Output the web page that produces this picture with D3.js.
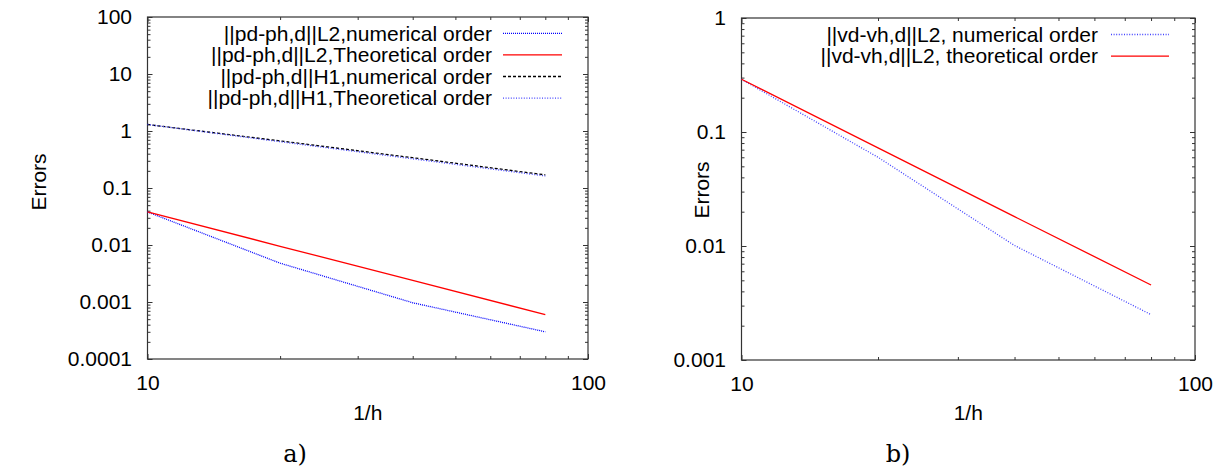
<!DOCTYPE html>
<html>
<head>
<meta charset="utf-8">
<script src="https://cdn.jsdelivr.net/npm/d3@7"></script>
<style>
  body { margin: 0; background: #fff; }
  svg { display: block; }
  .tick text { font-family: "Liberation Sans", Arial, sans-serif; font-size: 21px; fill: #000; }
  .tick line { stroke: #333; stroke-width: 1; }
  .lbl { font-family: "Liberation Sans", Arial, sans-serif; font-size: 21px; fill: #000; }
  .leg { font-family: "Liberation Sans", Arial, sans-serif; font-size: 21px; fill: #000; }
  .cap { font-family: "DejaVu Serif", "Liberation Serif", serif; font-size: 24px; fill: #000; }
</style>
</head>
<body>
<div id="chart"></div>
<script>
// mesh sizes (1/h)
const hInv = [10, 20, 40, 80];

// panel a) pressure errors
const pL2Num = [0.038, 0.0048, 0.00097, 0.0003];
const pL2Theo = [0.038, 0.0095, 0.0024, 0.0006];
const pH1Num = [1.3, 0.67, 0.34, 0.17];
const pH1Theo = [1.3, 0.65, 0.325, 0.1625];

// panel b) velocity errors
const vL2Num = [0.29, 0.06, 0.0101, 0.0025];
const vL2Theo = [0.29, 0.0725, 0.0181, 0.00455];

const xTicks = [10, 100];
const xTickLabels = ['10', '100'];
const yTicksA = [100, 10, 1, 0.1, 0.01, 0.001, 0.0001];
const yTickLabelsA = ['100', '10', '1', '0.1', '0.01', '0.001', '0.0001'];
const yTicksB = [1, 0.1, 0.01, 0.001];
const yTickLabelsB = ['1', '0.1', '0.01', '0.001'];

const legendA = [
  '||pd-ph,d||L2,numerical order',
  '||pd-ph,d||L2,Theoretical order',
  '||pd-ph,d||H1,numerical order',
  '||pd-ph,d||H1,Theoretical order',
];
const legendB = [
  '||vd-vh,d||L2, numerical order',
  '||vd-vh,d||L2, theoretical order',
];

const styles = {
  blueFine: { stroke: '#0000ff', dash: '1,1' },
  blueDot: { stroke: '#4444ff', dash: '1,1.6' },
  red: { stroke: '#ff0000', dash: null },
  black: { stroke: '#000000', dash: '3,2' },
};

const svg = d3.select('#chart').append('svg')
  .attr('width', 1224)
  .attr('height', 473);

function minorTicks(domain) {
  const out = [];
  for (let d = domain[0]; d < domain[1] * 0.999; d *= 10) {
    for (let k = 2; k <= 9; k++) out.push(d * k);
  }
  return out;
}

function drawPanel(opt) {
  const g = svg.append('g')
    .attr('transform', `translate(${opt.left},${opt.top})`);

  const x = d3.scaleLog().domain([10, 100]).range([0, opt.width]);
  const y = d3.scaleLog().domain(opt.yDomain).range([opt.height, 0]);

  const majLen = 5;
  const minLen = 3;

  const fmtX = v => xTickLabels[xTicks.indexOf(v)];
  const fmtY = v => opt.yLabels[opt.yTicks.indexOf(v)];

  const axes = [
    [d3.axisBottom(x).tickValues(xTicks).tickSize(-majLen).tickPadding(16).tickFormat(fmtX), `translate(0,${opt.height})`],
    [d3.axisBottom(x).tickValues(minorTicks([10, 100])).tickSize(-minLen).tickFormat(''), `translate(0,${opt.height})`],
    [d3.axisTop(x).tickValues(xTicks).tickSize(-majLen).tickFormat(''), 'translate(0,0)'],
    [d3.axisTop(x).tickValues(minorTicks([10, 100])).tickSize(-minLen).tickFormat(''), 'translate(0,0)'],
    [d3.axisLeft(y).tickValues(opt.yTicks).tickSize(-majLen).tickPadding(15.5).tickFormat(fmtY), 'translate(0,0)'],
    [d3.axisLeft(y).tickValues(minorTicks(opt.yDomain)).tickSize(-minLen).tickFormat(''), 'translate(0,0)'],
    [d3.axisRight(y).tickValues(opt.yTicks).tickSize(-majLen).tickFormat(''), `translate(${opt.width},0)`],
    [d3.axisRight(y).tickValues(minorTicks(opt.yDomain)).tickSize(-minLen).tickFormat(''), `translate(${opt.width},0)`],
  ];
  axes.forEach(([ax, tr]) => {
    const a = g.append('g').attr('transform', tr).call(ax);
    a.select('.domain').remove();
  });

  g.append('rect')
    .attr('width', opt.width)
    .attr('height', opt.height)
    .attr('fill', 'none')
    .attr('stroke', '#333')
    .attr('stroke-width', 1.2);

  const line = d3.line()
    .x((d, i) => x(hInv[i]))
    .y(d => y(d));

  opt.series.forEach(s => {
    g.append('path')
      .attr('d', line(s.values))
      .attr('fill', 'none')
      .attr('stroke', s.style.stroke)
      .attr('stroke-width', 1.3)
      .attr('stroke-dasharray', s.style.dash);
  });

  // legend
  opt.series.forEach((s, i) => {
    const ly = opt.legend.y + i * opt.legend.step;
    svg.append('text')
      .attr('class', 'leg')
      .attr('x', opt.legend.textX)
      .attr('y', ly)
      .attr('dy', '0.35em')
      .attr('text-anchor', 'end')
      .text(s.name);
    svg.append('line')
      .attr('x1', opt.legend.x1)
      .attr('x2', opt.legend.x2)
      .attr('y1', ly)
      .attr('y2', ly)
      .attr('stroke', s.style.stroke)
      .attr('stroke-width', 1.3)
      .attr('stroke-dasharray', s.style.dash);
  });

  // axis titles
  svg.append('text')
    .attr('class', 'lbl')
    .attr('text-anchor', 'middle')
    .attr('transform', `translate(${opt.yTitleX},${opt.yTitleY}) rotate(-90)`)
    .attr('dy', '0.35em')
    .text('Errors');

  svg.append('text')
    .attr('class', 'lbl')
    .attr('text-anchor', 'middle')
    .attr('x', opt.left + opt.width / 2)
    .attr('y', 420)
    .text('1/h');

  svg.append('text')
    .attr('class', 'cap')
    .attr('text-anchor', 'middle')
    .attr('x', opt.capX)
    .attr('y', 462)
    .text(opt.caption);
}

drawPanel({
  left: 147.5, top: 17, width: 440.5, height: 342,
  yDomain: [0.0001, 100], yTicks: yTicksA, yLabels: yTickLabelsA,
  series: [
    { name: legendA[0], values: pL2Num, style: styles.blueFine },
    { name: legendA[1], values: pL2Theo, style: styles.red },
    { name: legendA[2], values: pH1Num, style: styles.black },
    { name: legendA[3], values: pH1Theo, style: styles.blueDot },
  ],
  legend: { textX: 492, x1: 503, x2: 562, y: 33.3, step: 21.6 },
  yTitleX: 39, yTitleY: 182, capX: 295, caption: 'a)',
});

drawPanel({
  left: 741.5, top: 18, width: 453.5, height: 342,
  yDomain: [0.001, 1], yTicks: yTicksB, yLabels: yTickLabelsB,
  series: [
    { name: legendB[0], values: vL2Num, style: styles.blueDot },
    { name: legendB[1], values: vL2Theo, style: styles.red },
  ],
  legend: { textX: 1098, x1: 1111, x2: 1169, y: 34.5, step: 21.6 },
  yTitleX: 702, yTitleY: 190, capX: 898, caption: 'b)',
});
</script>
</body>
</html>
